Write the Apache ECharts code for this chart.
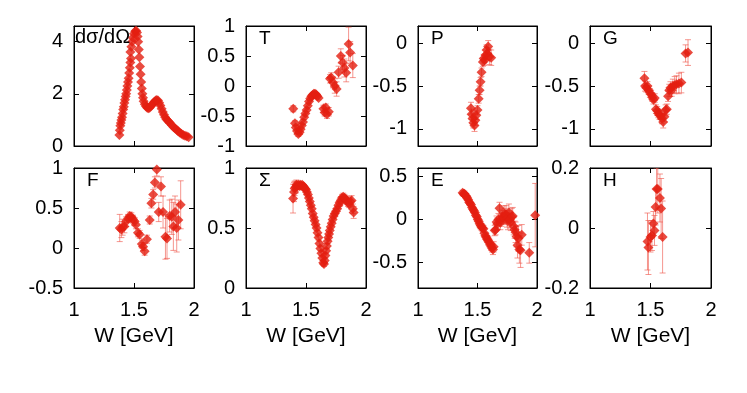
<!DOCTYPE html>
<html>
<head>
    <meta charset="utf-8">
    <title>ECharts</title>
    <script src="https://cdn.jsdelivr.net/npm/echarts@6/dist/echarts.min.js"></script>
</head>
<body style="margin:0;background:#fff">
    <div id="main" style="width:747px;height:393px;"></div>
    <script type="text/javascript">
// observables vs W [GeV]: [W, value, error]
var dsig = [[1.378,0.42],[1.382,0.6],[1.386,0.78],[1.39,0.88],[1.395,1.0],[1.40,1.1],[1.405,1.25],[1.41,1.4],
  [1.415,1.5],[1.42,1.65],[1.425,1.77],[1.43,1.9],[1.435,2.0],[1.44,2.15],[1.445,2.3],[1.45,2.45],[1.455,2.6],
  [1.46,2.8],[1.465,3.0],[1.47,3.2],[1.475,3.35],[1.47,3.6],[1.478,3.8],[1.485,4.0],[1.49,4.15],[1.50,4.3],
  [1.51,4.4],[1.518,4.42],[1.525,4.35],[1.53,4.2],[1.535,4.0],[1.54,3.7],[1.545,3.4],[1.55,3.05],[1.555,2.75],
  [1.56,2.45],[1.565,2.2],[1.57,2.0],[1.575,1.85],[1.58,1.72],[1.59,1.6],[1.60,1.52],[1.61,1.47],[1.62,1.45],
  [1.63,1.47],[1.64,1.52],[1.65,1.58],[1.66,1.64],[1.67,1.7],[1.68,1.74],[1.69,1.76],[1.70,1.74],[1.71,1.66],
  [1.72,1.55],[1.73,1.43],[1.74,1.3],[1.75,1.2],[1.76,1.1],[1.77,1.03],[1.78,0.98],[1.79,0.93],[1.80,0.88],
  [1.815,0.8],[1.83,0.72],[1.843,0.67],[1.856,0.62],[1.868,0.57],[1.88,0.52],[1.895,0.47],[1.91,0.42],
  [1.925,0.39],[1.94,0.37],[1.955,0.34]];
var tObs = [[1.394,-0.38,0.05],[1.408,-0.62,0.04],[1.415,-0.69,0.04],[1.425,-0.75,0.04],[1.436,-0.8,0.04],
  [1.447,-0.77,0.04],[1.455,-0.72,0.04],[1.465,-0.66,0.04],[1.475,-0.6,0.04],[1.485,-0.52,0.04],[1.495,-0.46,0.04],
  [1.505,-0.4,0.03],[1.515,-0.33,0.03],[1.525,-0.26,0.03],[1.535,-0.21,0.03],[1.545,-0.17,0.03],[1.555,-0.15,0.03],
  [1.565,-0.13,0.03],[1.575,-0.13,0.03],[1.585,-0.14,0.03],[1.595,-0.17,0.03],[1.605,-0.2,0.03],[1.645,-0.38,0.06],
  [1.655,-0.44,0.06],[1.665,-0.36,0.06],[1.675,-0.47,0.07],[1.69,-0.43,0.07],[1.70,0.12,0.07],[1.71,0.14,0.08],
  [1.725,0.06,0.09],[1.74,0.0,0.12],[1.755,-0.05,0.12],[1.772,0.23,0.1],[1.79,0.5,0.12],[1.805,0.39,0.12],
  [1.82,0.3,0.15],[1.835,0.22,0.15],[1.855,0.7,0.28],[1.868,0.56,0.18],[1.89,0.34,0.2]];
var pObs = [[1.445,-0.76,0.07],[1.45,-0.83,0.06],[1.458,-0.88,0.06],[1.465,-0.93,0.06],[1.475,-0.96,0.07],
  [1.482,-0.9,0.06],[1.49,-0.84,0.05],[1.5,-0.78,0.05],[1.51,-0.65,0.05],[1.518,-0.55,0.05],[1.526,-0.45,0.05],
  [1.534,-0.34,0.05],[1.545,-0.22,0.05],[1.552,-0.18,0.05],[1.56,-0.2,0.06],[1.568,-0.14,0.06],[1.576,-0.08,0.06],
  [1.583,-0.12,0.07],[1.59,-0.04,0.07],[1.6,-0.16,0.09],[1.615,-0.17,0.09]];
var gObs = [[1.45,-0.41,0.08],[1.455,-0.5,0.06],[1.465,-0.52,0.05],[1.475,-0.5,0.05],[1.485,-0.55,0.05],
  [1.495,-0.58,0.05],[1.505,-0.6,0.05],[1.515,-0.63,0.05],[1.525,-0.66,0.05],[1.535,-0.64,0.05],[1.545,-0.77,0.05],
  [1.555,-0.79,0.05],[1.565,-0.82,0.05],[1.575,-0.84,0.05],[1.585,-0.84,0.05],[1.595,-0.88,0.06],[1.605,-0.92,0.07],
  [1.615,-0.86,0.06],[1.625,-0.78,0.06],[1.635,-0.77,0.06],[1.645,-0.62,0.06],[1.655,-0.55,0.07],[1.665,-0.52,0.07],
  [1.675,-0.55,0.07],[1.685,-0.5,0.08],[1.70,-0.49,0.1],[1.715,-0.48,0.1],[1.735,-0.47,0.12],[1.755,-0.46,0.12],
  [1.79,-0.12,0.1],[1.81,-0.11,0.15]];
var fObs = [[1.381,0.25,0.17],[1.395,0.23,0.1],[1.405,0.26,0.1],[1.42,0.27,0.08],[1.435,0.33,0.06],[1.45,0.37,0.05],
  [1.464,0.40,0.05],[1.478,0.39,0.05],[1.492,0.36,0.05],[1.505,0.33,0.05],[1.516,0.29,0.05],[1.533,0.19,0.05],
  [1.547,0.17,0.05],[1.565,0.05,0.05],[1.575,0.02,0.05],[1.589,-0.04,0.05],[1.608,0.11,0.05],[1.631,0.35,0.05],
  [1.645,0.56,0.06],[1.66,0.67,0.06],[1.674,0.82,0.07],[1.69,0.98,0.08],[1.706,0.45,0.12],[1.725,0.77,0.12],
  [1.742,0.45,0.2],[1.762,0.14,0.28],[1.775,0.12,0.25],[1.797,0.4,0.2],[1.815,0.39,0.22],[1.828,0.27,0.3],
  [1.842,0.45,0.2],[1.856,0.25,0.3],[1.87,0.35,0.25],[1.889,0.54,0.3]];
var sigmaObs = [[1.392,0.745,0.12],[1.4,0.8,0.08],[1.405,0.83,0.06],[1.412,0.84,0.05],[1.42,0.86,0.04],
  [1.428,0.85,0.03],[1.436,0.86,0.03],[1.444,0.85,0.03],[1.452,0.86,0.02],[1.46,0.85,0.02],[1.468,0.86,0.02],
  [1.476,0.85,0.02],[1.484,0.84,0.02],[1.492,0.83,0.02],[1.50,0.82,0.02],[1.508,0.8,0.02],[1.516,0.78,0.02],
  [1.524,0.75,0.02],[1.532,0.72,0.02],[1.54,0.69,0.02],[1.548,0.66,0.02],[1.556,0.62,0.02],[1.564,0.59,0.02],
  [1.572,0.56,0.02],[1.58,0.53,0.02],[1.588,0.5,0.02],[1.596,0.46,0.02],[1.604,0.42,0.02],[1.612,0.37,0.02],
  [1.62,0.33,0.02],[1.628,0.29,0.02],[1.636,0.25,0.02],[1.644,0.21,0.02],[1.65,0.2,0.02],[1.656,0.23,0.02],
  [1.662,0.27,0.02],[1.668,0.31,0.02],[1.674,0.35,0.02],[1.68,0.39,0.02],[1.686,0.42,0.02],[1.692,0.45,0.02],
  [1.698,0.48,0.02],[1.706,0.51,0.02],[1.714,0.54,0.02],[1.722,0.57,0.02],[1.73,0.6,0.02],[1.74,0.62,0.02],
  [1.75,0.64,0.02],[1.76,0.66,0.02],[1.77,0.69,0.03],[1.78,0.71,0.03],[1.79,0.73,0.03],[1.80,0.75,0.03],
  [1.81,0.76,0.03],[1.82,0.75,0.03],[1.83,0.74,0.03],[1.84,0.73,0.03],[1.85,0.71,0.03],[1.86,0.7,0.03],
  [1.87,0.72,0.04],[1.88,0.73,0.04],[1.89,0.66,0.04],[1.897,0.63,0.05]];
var eObs = [[1.375,0.31,0.03],[1.382,0.3,0.03],[1.39,0.3,0.03],[1.398,0.28,0.03],[1.406,0.27,0.03],[1.414,0.25,0.03],
  [1.422,0.23,0.03],[1.43,0.2,0.03],[1.438,0.19,0.03],[1.446,0.17,0.03],[1.454,0.14,0.03],[1.462,0.12,0.03],
  [1.47,0.1,0.03],[1.478,0.08,0.03],[1.486,0.05,0.03],[1.494,0.03,0.03],[1.502,0.0,0.03],[1.51,-0.02,0.03],
  [1.518,-0.05,0.03],[1.526,-0.07,0.04],[1.534,-0.09,0.04],[1.542,-0.1,0.04],[1.55,-0.11,0.04],[1.558,-0.16,0.04],
  [1.566,-0.19,0.04],[1.574,-0.21,0.04],[1.582,-0.23,0.04],[1.59,-0.25,0.05],[1.598,-0.27,0.05],[1.606,-0.29,0.05],
  [1.614,-0.31,0.05],[1.622,-0.33,0.05],[1.63,-0.35,0.06],[1.636,-0.32,0.06],[1.645,-0.13,0.06],[1.652,-0.12,0.06],
  [1.66,-0.03,0.07],[1.668,-0.05,0.07],[1.676,0.0,0.07],[1.685,0.13,0.07],[1.692,-0.04,0.08],[1.70,0.0,0.08],
  [1.708,0.03,0.08],[1.716,0.02,0.08],[1.724,0.07,0.09],[1.732,0.04,0.09],[1.74,0.06,0.1],[1.748,0.01,0.1],
  [1.756,-0.02,0.1],[1.764,0.08,0.1],[1.772,0.0,0.1],[1.78,-0.03,0.1],[1.788,0.03,0.1],[1.796,0.04,0.1],
  [1.804,-0.08,0.1],[1.812,-0.12,0.1],[1.82,-0.15,0.12],[1.828,-0.2,0.12],[1.836,-0.3,0.15],[1.844,-0.22,0.15],
  [1.852,-0.35,0.16],[1.862,-0.36,0.2],[1.872,-0.18,0.12],[1.935,-0.39,0.12],[1.985,0.05,0.37]];
var hObs = [[1.475,-0.045,0.095],[1.483,-0.065,0.09],[1.5,-0.03,0.05],[1.512,-0.025,0.05],[1.524,0.015,0.04],
  [1.533,-0.008,0.05],[1.542,0.07,0.06],[1.55,0.13,0.07],[1.56,0.13,0.08],[1.578,0.1,0.08],[1.588,0.065,0.1],
  [1.6,-0.03,0.12]];

// tick labels
var xTicks = [1, 1.5, 2];
var yTicksDsig = [0, 2, 4];
var yTicksT = [-1, -0.5, 0, 0.5, 1];
var yTicksPG = [-1, -0.5, 0];
var yTicksF = [-0.5, 0, 0.5, 1];
var yTicksSigma = [0, 0.5, 1];
var yTicksE = [-0.5, 0, 0.5];
var yTicksH = [-0.2, 0, 0.2];

var panels = [
  {label: 'dσ/dΩ', data: dsig,     ymin: 0,    ymax: 4.6, ticks: yTicksDsig},
  {label: 'T',     data: tObs,     ymin: -1,   ymax: 1,   ticks: yTicksT},
  {label: 'P',     data: pObs,     ymin: -1.2, ymax: 0.2, ticks: yTicksPG},
  {label: 'G',     data: gObs,     ymin: -1.2, ymax: 0.2, ticks: yTicksPG},
  {label: 'F',     data: fObs,     ymin: -0.5, ymax: 1,   ticks: yTicksF},
  {label: 'Σ',     data: sigmaObs, ymin: 0,    ymax: 1,   ticks: yTicksSigma},
  {label: 'E',     data: eObs,     ymin: -0.8, ymax: 0.6, ticks: yTicksE},
  {label: 'H',     data: hObs,     ymin: -0.2, ymax: 0.2, ticks: yTicksH}
];

var lefts = [74, 246, 418, 590];
var widths = [120, 120, 119, 121];
var tops = [26, 168];
var font = "'Liberation Sans', Arial, sans-serif";
var red = '#e41e10';
var errColor = 'rgba(238,80,68,0.6)';

function errRender(params, api) {
  var x = api.value(0), y = api.value(1), e = api.value(2);
  var lo = api.coord([x, y - e]), hi = api.coord([x, y + e]);
  var c = 3, st = {stroke: errColor, lineWidth: 1};
  return {type: 'group', children: [
    {type: 'line', shape: {x1: lo[0], y1: lo[1], x2: hi[0], y2: hi[1]}, style: st},
    {type: 'line', shape: {x1: lo[0] - c, y1: lo[1], x2: lo[0] + c, y2: lo[1]}, style: st},
    {type: 'line', shape: {x1: hi[0] - c, y1: hi[1], x2: hi[0] + c, y2: hi[1]}, style: st}
  ]};
}

function axLine() { return {show: true, onZero: false, lineStyle: {color: '#000', width: 1}}; }
function axTick(vals) { return {inside: true, length: 5, customValues: vals, lineStyle: {color: '#000'}}; }

var grid = [], xAxis = [], yAxis = [], series = [], title = [];
panels.forEach(function (p, i) {
  var row = Math.floor(i / 4), col = i % 4;
  grid.push({left: lefts[col], top: tops[row], width: widths[col], height: 120,
    show: true, borderColor: '#000', borderWidth: 1, backgroundColor: 'transparent'});
  xAxis.push({type: 'value', gridIndex: i, min: 1, max: 2, position: 'bottom',
    axisLine: axLine(), splitLine: {show: false}, axisTick: axTick(xTicks),
    axisLabel: {show: row === 1, customValues: xTicks, fontSize: 20, color: '#000', fontFamily: font, margin: 12},
    name: row === 1 ? 'W [GeV]' : '', nameLocation: 'middle', nameGap: 38,
    nameTextStyle: {fontSize: 21, color: '#000', fontFamily: font}});
  yAxis.push({type: 'value', gridIndex: i, min: p.ymin, max: p.ymax, position: 'left',
    axisLine: axLine(), splitLine: {show: false}, axisTick: axTick(p.ticks),
    axisLabel: {customValues: p.ticks, fontSize: 20, color: '#000', fontFamily: font, margin: 11}});
  title.push({text: p.label, left: lefts[col] + (i === 0 ? 1 : 13), top: tops[row] + (i === 0 ? 1 : 3), padding: 0,
    textStyle: {fontSize: i === 0 ? 20 : 19, fontWeight: 'normal', color: '#000', fontFamily: font}});
});
// mirrored axes (top / right) with inward ticks
panels.forEach(function (p, i) {
  xAxis.push({type: 'value', gridIndex: i, min: 1, max: 2, position: 'top',
    axisLine: axLine(), splitLine: {show: false}, axisLabel: {show: false}, axisTick: axTick(xTicks)});
  yAxis.push({type: 'value', gridIndex: i, min: p.ymin, max: p.ymax, position: 'right',
    axisLine: axLine(), splitLine: {show: false}, axisLabel: {show: false}, axisTick: axTick(p.ticks)});
});
panels.forEach(function (p, i) {
  if (p.data[0].length > 2) {
    series.push({type: 'custom', xAxisIndex: i, yAxisIndex: i, renderItem: errRender,
      data: p.data, encode: {x: 0, y: 1}, clip: true, silent: true, z: 2});
  }
  series.push({type: 'scatter', xAxisIndex: i, yAxisIndex: i, symbol: 'diamond', symbolSize: 10,
    itemStyle: {color: red}, data: p.data.map(function (d) { return [d[0], d[1]]; }), clip: true, z: 3});
});

var myChart = echarts.init(document.getElementById('main'));
var option = {
  animation: false,
  backgroundColor: '#fff',
  title: title,
  grid: grid,
  xAxis: xAxis,
  yAxis: yAxis,
  series: series
};
myChart.setOption(option);
    </script>
</body>
</html>
